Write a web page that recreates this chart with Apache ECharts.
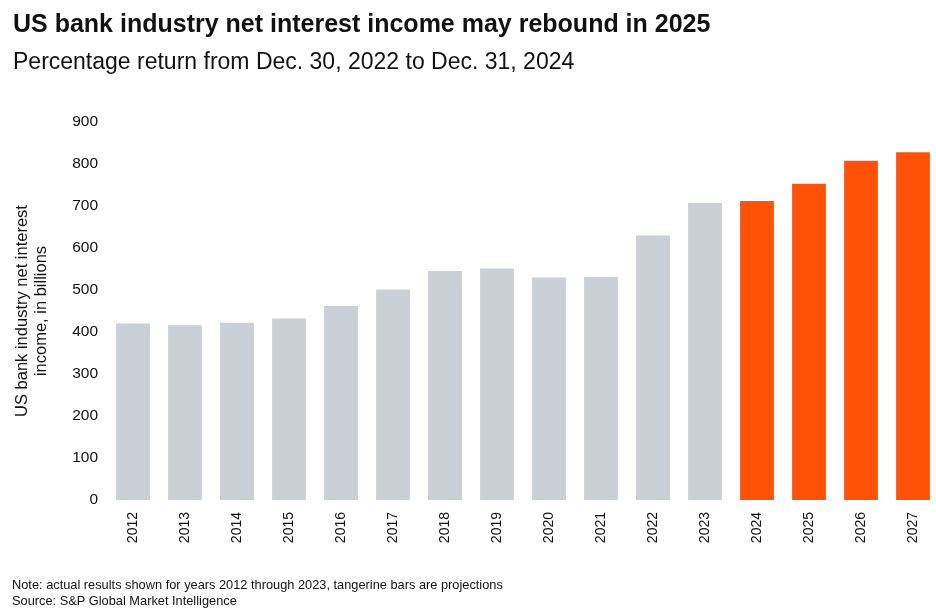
<!DOCTYPE html>
<html>
<head>
<meta charset="utf-8">
<script src="https://cdn.jsdelivr.net/npm/echarts@6/dist/echarts.min.js"></script>
<style>
  html, body { margin: 0; padding: 0; background: #fff; }
  #chart { width: 936px; height: 614px; }
</style>
</head>
<body>
<div id="chart"></div>
<script>
var years = ['2012', '2013', '2014', '2015', '2016', '2017', '2018', '2019',
  '2020', '2021', '2022', '2023', '2024', '2025', '2026', '2027'];
var income = [420, 416, 422, 432, 462, 501, 545, 551, 530, 531, 630, 707, 712, 753, 808, 828];
var firstProjection = '2024';
var yTicks = [0, 900, 100];

var FONT = "'Liberation Sans', Arial, Helvetica, sans-serif";
var projStart = years.indexOf(firstProjection);

var chart = echarts.init(document.getElementById('chart'));
chart.setOption({
  animation: false,
  textStyle: { fontFamily: FONT },
  title: [{
    text: 'US bank industry net interest income may rebound in 2025',
    left: 13,
    top: 13,
    padding: 0,
    textStyle: { fontFamily: FONT, fontSize: 25, fontWeight: 'bold', color: '#111' }
  }, {
    text: 'Percentage return from Dec. 30, 2022 to Dec. 31, 2024',
    left: 13,
    top: 51,
    padding: 0,
    textStyle: { fontFamily: FONT, fontSize: 23, fontWeight: 'normal', color: '#111' }
  }, {
    text: 'Note: actual results shown for years 2012 through 2023, tangerine bars are projections\nSource: S&P Global Market Intelligence',
    left: 12,
    top: 577,
    padding: 0,
    textStyle: { fontFamily: FONT, fontSize: 12.8, fontWeight: 'normal', color: '#111', lineHeight: 16 }
  }],
  grid: {
    left: 107,
    top: 122,
    width: 832,
    height: 378,
    outerBoundsMode: 'none'
  },
  xAxis: {
    type: 'category',
    data: years,
    axisLine: { show: false },
    axisTick: { show: false },
    axisLabel: {
      rotate: 90,
      margin: 12,
      fontSize: 14,
      color: '#111',
      fontFamily: FONT
    }
  },
  yAxis: {
    type: 'value',
    min: yTicks[0],
    max: yTicks[1],
    interval: yTicks[2],
    name: 'US bank industry net interest\nincome, in billions',
    nameLocation: 'middle',
    nameRotate: 90,
    nameGap: 56,
    nameTextStyle: { fontFamily: FONT, fontSize: 16.5, color: '#111', lineHeight: 19 },
    axisLine: { show: false },
    axisTick: { show: false },
    splitLine: { show: false },
    axisLabel: {
      margin: 9,
      fontSize: 15.5,
      color: '#111',
      fontFamily: FONT
    }
  },
  series: [{
    type: 'bar',
    barCategoryGap: '35%',
    data: income.map(function (v, i) {
      return {
        value: v,
        itemStyle: { color: i >= projStart ? '#ff5208' : '#cbd0d6' }
      };
    })
  }]
});
</script>
</body>
</html>
